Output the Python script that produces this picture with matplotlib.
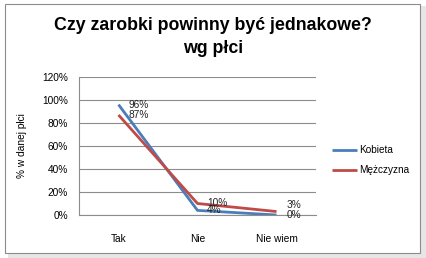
import matplotlib
matplotlib.use("Agg")
import matplotlib.pyplot as plt
from matplotlib.patches import Rectangle

categories = ["Tak", "Nie", "Nie wiem"]
kobieta = [96, 4, 0]
mezczyzna = [87, 10, 3]
y_ticks = [0, 20, 40, 60, 80, 100, 120]

BLUE = "#4A7EBB"
RED = "#BE4B48"
GRID = "#8C8C8C"

plt.rcParams['font.family'] = ['Liberation Sans', 'DejaVu Sans']

fig = plt.figure(figsize=(4.26, 2.58), dpi=100)
fig.patch.set_facecolor("white")

# shadow + frame of the chart object
fig.patches.append(Rectangle((8 / 426, 0), 418 / 426, 252 / 258, transform=fig.transFigure,
                             facecolor="#E6E6E6", edgecolor="none", zorder=-2))
fig.patches.append(Rectangle((5 / 426, 5 / 258), 415 / 426, 249 / 258, transform=fig.transFigure,
                             facecolor="white", edgecolor="#8C8C8C", linewidth=0.8, zorder=-1))

ax = fig.add_axes([79 / 426, 43 / 258, 237 / 426, 138 / 258])
ax.set_facecolor("none")
x = range(len(categories))
ax.plot(x, kobieta, color=BLUE, linewidth=2.0, label="Kobieta", solid_capstyle="butt")
ax.plot(x, mezczyzna, color=RED, linewidth=2.0, label="Mężczyzna", solid_capstyle="butt")

ax.set_xlim(-0.5, len(categories) - 0.5)
ax.set_ylim(0, 120)
ax.set_yticks(y_ticks)
ax.set_yticklabels([f"{v}%" for v in y_ticks])
ax.set_xticks(list(x))
ax.set_xticklabels(categories)
ax.tick_params(axis="both", length=0, labelsize=7.3)
ax.tick_params(axis="x", pad=14)
ax.tick_params(axis="y", pad=8)
ax.grid(axis="y", color=GRID, linewidth=0.8)
ax.set_axisbelow(True)
for side in ["top", "right"]:
    ax.spines[side].set_visible(False)
for side in ["left", "bottom"]:
    ax.spines[side].set_color(GRID)
    ax.spines[side].set_linewidth(0.8)

ax.set_ylabel("% w danej płci", fontsize=7.3, labelpad=11)

# data labels to the right of points
label_dy = {(1, 2): 5}
for series, si in ((kobieta, 0), (mezczyzna, 1)):
    for i, v in enumerate(series):
        dy = label_dy.get((si, i), 0)
        ax.annotate(f"{v}%", (i, v), xytext=(7, dy), textcoords="offset points",
                    ha="left", va="center", fontsize=7.3, color="#222222")

ax.legend(loc="upper left", bbox_to_anchor=(1.03, 0.57), frameon=False, fontsize=7.2,
          handlelength=2.5, labelspacing=1.0, handletextpad=0.2)

fig.text(0.5, 221 / 258, "Czy zarobki powinny być jednakowe?\nwg płci", ha="center", va="center",
         fontsize=12.8, fontweight="bold", linespacing=1.45)

fig.savefig("out.png", dpi=100)
